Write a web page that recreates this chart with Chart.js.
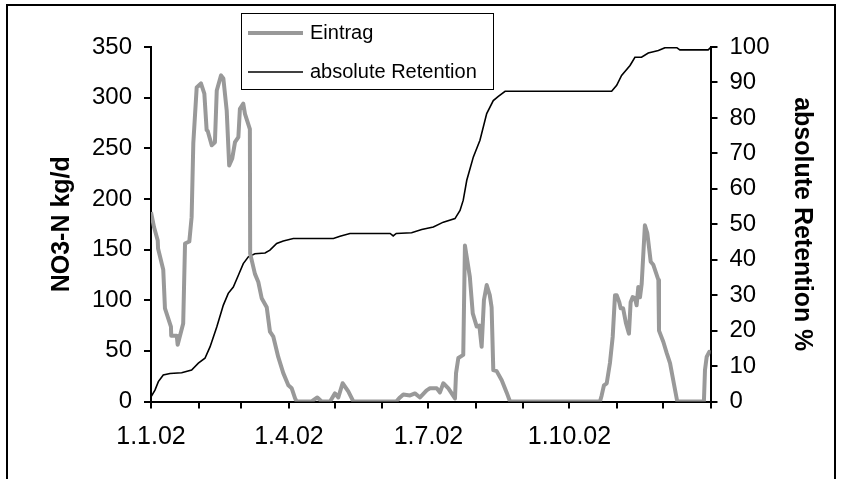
<!DOCTYPE html>
<html><head><meta charset="utf-8">
<script src="https://cdn.jsdelivr.net/npm/chart.js@4.4.1/dist/chart.umd.min.js"></script>
<style>html,body{margin:0;padding:0;background:#fff;overflow:hidden}#wrap{width:841px;height:479px;position:relative}</style>
</head><body><div id="wrap"><canvas id="c" width="841" height="479"></canvas></div>
<script>
// X axis: day of year 2002, month starts and labels
const monthStartDays = [0,31,59,90,120,151,181,212,243,273,304,334,365];
const monthLabels = ['1.1.02','','','1.4.02','','','1.7.02','','','1.10.02','','',''];

// Eintrag (NO3-N kg/d), day of year -> value
const eintragDays = [0,2,4.4,4.6,8,9.1,13,13.2,16.8,17.4,21,22.2,25,26.5,27.6,29.8,32.6,34.8,36.3,37,39.6,41.7,42.9,45.7,47.2,49.4,51,53,54.8,57,58,60.2,61.3,64.5,64.7,67.8,70,72.2,75.5,77.6,79.8,83,86.3,89.6,91.8,94,95,104.8,108.5,111.3,116.8,120,122.2,125,128.7,132,160,162.4,164.6,169,172.2,175.5,179.8,182,186.4,188.5,190.7,194,198.3,199,200.5,203.7,204.8,208,209.9,212.5,214.2,215.7,217.2,219,221,222.2,223.3,225.5,228.8,232,234.2,292.9,294,295.5,297.3,299.4,301.2,302.7,303.8,305.5,306.4,308,309.9,311.8,312.9,314.2,315.7,316.8,317.9,319,320.1,322.2,323.8,326,327.7,331,331.4,334.2,336.4,338.6,343.3,360.7,361.4,362.5,364.2,365];
const eintragValues = [187,172,159,151,130,92,74,65,65,56,77,156,158,182,255,310,314,304,268,267,253,256,307,322,319,287,233,240,256,261,289,294,284,269,146,126,118,102,93,69,64,44,28,16,13,3,0,0,4,0,0,8,4,18,10,0,0,4,7,6,8,4,11,13,13,9,18,13,3,28,43,46,154,123,87,74,75,54,100,115,105,93,31,30,21,9,0,0,6,16,18,38,64,105,105,98,92,92,77,67,98,103,102,95,113,103,116,174,166,138,135,120,70,59,48,38,0,0,31,44,49,48];

// absolute Retention %, day of year -> value
const retentionDays = [0,2.6,4.8,8,12.4,20,26.5,30.9,35.2,38.5,42.9,47.2,50.4,53.7,57,60.2,63.5,67.8,74.4,77.6,82,86.3,92.8,119,123.3,129.8,156,158,160,170,176.6,184.2,190.7,198.3,201.6,203.7,206,210.3,214.6,219,223.3,226.6,231,300.5,303.8,307,312.5,315.7,320,324.4,331,335.3,343,345,363.5,365];
const retentionValues = [1.3,3.2,5.6,7.5,7.9,8.1,8.9,10.8,12.2,15.4,21,27.2,30.5,32.3,35.6,38.9,40.8,41.7,41.9,42.7,44.6,45.3,46,46,46.6,47.4,47.4,46.7,47.4,47.6,48.5,49.2,50.6,51.6,53.9,56.8,62.4,69,73.7,81.2,84.9,86.1,87.5,87.5,89.2,92,94.8,97.1,97.1,98.3,99,99.8,99.8,99.2,99.2,99.8];

const seriesNames = ['Eintrag','absolute Retention'];
const leftTitle = 'NO3-N kg/d';
const rightTitle = 'absolute Retention %';

const FONT = '"Liberation Sans", Arial, sans-serif';

const framePlugin = {
  id: 'frame',
  beforeDraw(chart) {
    const ctx = chart.ctx;
    ctx.save();
    ctx.fillStyle = '#fff';
    ctx.fillRect(0, 0, chart.width, chart.height);
    ctx.restore();
  },
  afterDraw(chart, args, opts) {
    const ctx = chart.ctx;
    ctx.save();
    // outer frame
    ctx.strokeStyle = '#000';
    ctx.lineWidth = 2;
    ctx.strokeRect(opts.frame.x, opts.frame.y, opts.frame.w, opts.frame.h);
    // legend
    const L = opts.legend;
    ctx.lineWidth = 1;
    ctx.fillStyle = '#fff';
    ctx.fillRect(L.x, L.y, L.w, L.h);
    ctx.strokeStyle = '#000';
    ctx.strokeRect(L.x + 0.5, L.y + 0.5, L.w, L.h);
    ctx.font = L.fontSize + 'px ' + FONT;
    ctx.textBaseline = 'middle';
    ctx.textAlign = 'left';
    chart.data.datasets.forEach((ds, i) => {
      const y = L.rowY[i];
      ctx.strokeStyle = ds.borderColor;
      ctx.lineWidth = ds.borderWidth;
      ctx.lineCap = 'butt';
      ctx.beginPath();
      ctx.moveTo(L.x + L.sampleX0, y);
      ctx.lineTo(L.x + L.sampleX1, y);
      ctx.stroke();
      ctx.fillStyle = '#000';
      ctx.fillText(ds.label, L.x + L.textX, y);
    });
    ctx.restore();
  }
};

new Chart(document.getElementById('c'), {
  type: 'line',
  data: {
    datasets: [
      {
        label: seriesNames[0],
        data: eintragDays.map((d, i) => ({x: d, y: eintragValues[i]})),
        yAxisID: 'y',
        borderColor: '#999999',
        borderWidth: 4,
        pointRadius: 0,
        tension: 0,
        borderJoinStyle: 'round'
      },
      {
        label: seriesNames[1],
        data: retentionDays.map((d, i) => ({x: d, y: retentionValues[i]})),
        yAxisID: 'y2',
        borderColor: '#000000',
        borderWidth: 1.6,
        pointRadius: 0,
        tension: 0
      }
    ]
  },
  options: {
    responsive: false,
    animation: false,
    devicePixelRatio: 1,
    layout: {padding: {top: 47, left: 0, right: 0, bottom: 0}},
    plugins: {
      legend: {display: false},
      tooltip: {enabled: false},
      frame: {
        frame: {x: 7, y: 5, w: 828, h: 500},
        legend: {x: 241, y: 13, w: 252, h: 76, rowY: [33, 72], sampleX0: 7, sampleX1: 62, textX: 69, fontSize: 20}
      }
    },
    scales: {
      x: {
        type: 'linear',
        position: 'bottom',
        min: 0,
        max: 365,
        afterBuildTicks: s => { s.ticks = monthStartDays.map(v => ({value: v})); },
        afterFit: s => { s.height = 77.5; },
        ticks: {
          autoSkip: false,
          maxRotation: 0,
          color: '#000',
          padding: 14,
          font: {family: FONT, size: 25},
          callback: (v, i) => monthLabels[i]
        },
        grid: {drawOnChartArea: false, drawTicks: true, tickLength: 7, color: '#000', lineWidth: 2},
        border: {display: true, color: '#000', width: 2}
      },
      y: {
        position: 'left',
        min: 0,
        max: 350,
        afterFit: s => { s.width = 151; },
        ticks: {stepSize: 50, color: '#000', padding: 12, font: {family: FONT, size: 24}},
        grid: {drawOnChartArea: false, drawTicks: true, tickLength: 7, color: '#000', lineWidth: 2},
        border: {display: true, color: '#000', width: 2},
        title: {display: true, text: leftTitle, color: '#000', font: {family: FONT, size: 25, weight: 'bold'}, padding: {top: 47, bottom: 0}}
      },
      y2: {
        position: 'right',
        min: 0,
        max: 100,
        afterFit: s => { s.width = 130.5; },
        ticks: {stepSize: 10, color: '#000', padding: 12, font: {family: FONT, size: 24}},
        grid: {drawOnChartArea: false, drawTicks: true, tickLength: 7, color: '#000', lineWidth: 2},
        border: {display: true, color: '#000', width: 2},
        title: {display: true, text: rightTitle, color: '#000', font: {family: FONT, size: 25, weight: 'bold'}, padding: {top: 24, bottom: 0}}
      }
    }
  },
  plugins: [framePlugin]
});
</script>
</body></html>
